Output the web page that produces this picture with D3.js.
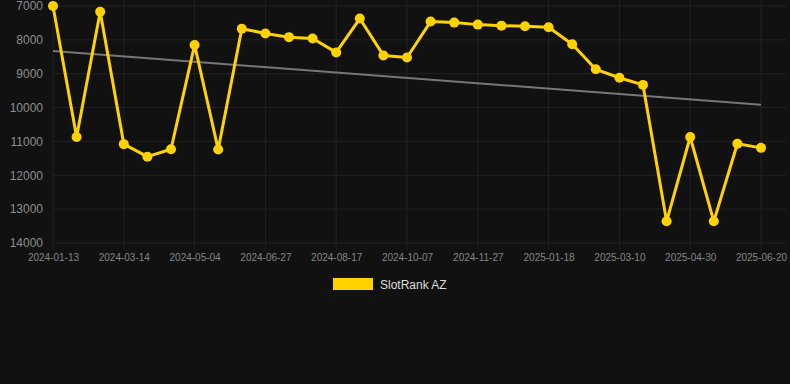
<!DOCTYPE html>
<html>
<head>
<meta charset="utf-8">
<script src="https://cdn.jsdelivr.net/npm/d3@7"></script>
<style>
  html, body { margin: 0; padding: 0; background: #111111; }
  svg { display: block; }
  text { font-family: Arial, "Liberation Sans", Helvetica, sans-serif; }
</style>
</head>
<body>
<svg id="chart" width="790" height="384"></svg>
<script>
// ── Data ──
var dates = [
  '2024-01-13', '2024-01-31', '2024-02-20', '2024-03-14', '2024-03-31', '2024-04-17',
  '2024-05-04', '2024-05-22', '2024-06-09', '2024-06-27', '2024-07-14', '2024-07-31',
  '2024-08-17', '2024-09-03', '2024-09-20', '2024-10-07', '2024-10-24', '2024-11-10',
  '2024-11-27', '2024-12-14', '2025-01-01', '2025-01-18', '2025-02-04', '2025-02-21',
  '2025-03-10', '2025-03-27', '2025-04-13', '2025-04-30', '2025-05-17', '2025-06-03',
  '2025-06-20'
];
var ranks = [
  7000, 10870, 7170, 11080, 11450, 11230,
  8150, 11240, 7670, 7810, 7920, 7960,
  8370, 7370, 8460, 8520, 7460, 7490,
  7550, 7580, 7600, 7630, 8130, 8870,
  9120, 9330, 13360, 10870, 13360, 11070,
  11190
];
var yTicks = [7000, 8000, 9000, 10000, 11000, 12000, 13000, 14000];
var seriesName = 'SlotRank AZ';

(function () {
  'use strict';
  var svg = d3.select('#chart');
  var left = 53, right = 761, top = 6, bottom = 243;

  var x = d3.scalePoint().domain(dates).range([left, right]);
  var y = d3.scaleLinear().domain([7000, 14000]).range([top, bottom]);

  // ── Grid ──
  var grid = svg.append('g');
  grid.selectAll('line.h').data(yTicks).join('line')
    .attr('x1', left).attr('x2', 786)
    .attr('y1', function (d) { return y(d); }).attr('y2', function (d) { return y(d); })
    .attr('stroke', '#222').attr('stroke-width', 1);

  var labelled = dates.filter(function (d, i) { return i % 3 === 0; });
  grid.selectAll('line.v').data(labelled).join('line')
    .attr('x1', function (d) { return x(d); }).attr('x2', function (d) { return x(d); })
    .attr('y1', 0).attr('y2', bottom + 7)
    .attr('stroke', '#222').attr('stroke-width', 1);

  // ── Axes ──
  var yAxis = d3.axisLeft(y).tickValues(yTicks).tickSize(0).tickPadding(10).tickFormat(d3.format('d'));
  var gy = svg.append('g').attr('transform', 'translate(' + left + ',0)').call(yAxis);
  gy.select('.domain').remove();
  gy.selectAll('text').attr('fill', '#8e8e8e').style('font-size', '12px');

  var xAxis = d3.axisBottom(x).tickValues(labelled).tickSize(0).tickPadding(8);
  var gx = svg.append('g').attr('transform', 'translate(0,' + (bottom + 3) + ')').call(xAxis);
  gx.select('.domain').remove();
  gx.selectAll('text').attr('fill', '#858585').style('font-size', '10px');

  // ── Trend (least squares) ──
  var n = ranks.length, sx = 0, sy = 0, sxy = 0, sxx = 0;
  ranks.forEach(function (v, i) { sx += i; sy += v; sxy += i * v; sxx += i * i; });
  var slope = (n * sxy - sx * sy) / (n * sxx - sx * sx);
  var icpt = (sy - slope * sx) / n;
  var trend = [icpt, icpt + slope * (n - 1)];
  svg.append('line')
    .attr('x1', x(dates[0])).attr('y1', y(trend[0]))
    .attr('x2', x(dates[n - 1])).attr('y2', y(trend[1]))
    .attr('stroke', '#777').attr('stroke-width', 2);

  // ── Series ──
  var line = d3.line()
    .x(function (d, i) { return x(dates[i]); })
    .y(function (d) { return y(d); });
  svg.append('path').datum(ranks)
    .attr('d', line).attr('fill', 'none')
    .attr('stroke', '#ffd200').attr('stroke-width', 3).attr('stroke-linejoin', 'round');

  svg.append('g').selectAll('circle').data(ranks).join('circle')
    .attr('cx', function (d, i) { return x(dates[i]); })
    .attr('cy', function (d) { return y(d); })
    .attr('r', 5).attr('fill', '#ffd200');

  // ── Legend ──
  var lg = svg.append('g').attr('transform', 'translate(333,278)');
  lg.append('rect').attr('width', 40).attr('height', 12).attr('fill', '#ffd200');
  lg.append('text').attr('x', 47).attr('y', 10.5).attr('fill', '#dddddd')
    .style('font-size', '12px').text(seriesName);
})();
</script>
</body>
</html>
